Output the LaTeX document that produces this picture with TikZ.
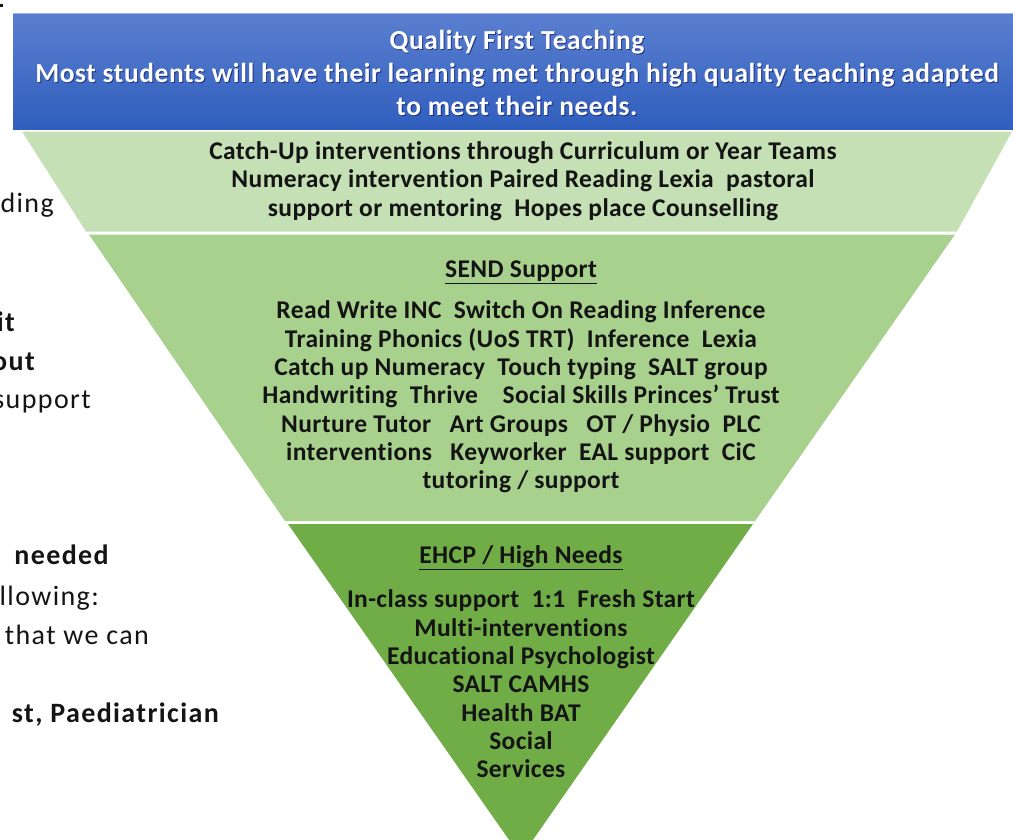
\documentclass[tikz,border=0pt]{standalone}
\usepackage{fontspec}
\setmainfont{Carlito}[Ligatures=NoCommon]
\newfontfamily\bandfont{Carlito}[Ligatures=NoCommon, LetterSpace=1.5]
\newfontfamily\headfont{Carlito}[Ligatures=NoCommon, LetterSpace=2]
\newfontfamily\sidefont{Carlito}[Ligatures=NoCommon, LetterSpace=5]
\begin{document}
\begin{tikzpicture}[x=1pt,y=-1pt,
  bandtext/.style={align=center, text=ink, inner sep=0pt,
    font=\bandfont\bfseries\fontsize{25.5}{28.3}\selectfont},
  headtext/.style={align=center, text=white, inner sep=0pt,
    font=\headfont\bfseries\fontsize{27.5}{33}\selectfont},
  sidetext/.style={anchor=base east, text=ink, inner sep=0pt,
    font=\sidefont\fontsize{28}{30}\selectfont},
  sidebold/.style={sidetext, font=\sidefont\bfseries\fontsize{28}{30}\selectfont},
]
\definecolor{ink}{HTML}{141414}
\definecolor{bluetop}{HTML}{5B7FD0}
\definecolor{bluebot}{HTML}{2F5EBD}
\definecolor{blueedge}{HTML}{9DB3E0}
\definecolor{greenA}{HTML}{C5E0B4}
\definecolor{greenB}{HTML}{A9D18E}
\definecolor{greenC}{HTML}{70AD47}

\useasboundingbox (0,0) rectangle (1013,839);
\clip (0,0) rectangle (1013,839);

% stray mark at the corner
\fill[ink] (0,4) rectangle (3,6.5);

% top banner
\shade[top color=bluetop, bottom color=bluebot] (13,13) rectangle (1020,129.5);
\draw[blueedge, line width=1pt] (13,13.5) -- (1020,13.5);

% inverted pyramid bands
\fill[greenA] (22,131.5) -- (1012,131.5) -- (957,231.5) -- (86,231.5) -- cycle;
\fill[greenB] (89,234.5) -- (955,234.5) -- (755,521) -- (285,521) -- cycle;
\fill[greenC] (288,524) -- (753,524) -- (521,857) -- cycle;

% banner text with a faint shadow
\node[headtext, text=black!70!blue, opacity=0.55] at (518,73.8) {Quality First Teaching\\Most students will have their learning met through high quality teaching adapted\\to meet their needs.};
\node[headtext] (qft) at (517,73) {Quality First Teaching\\Most students will have their learning met through high quality teaching adapted\\to meet their needs.};

% band texts
\node[bandtext] (catchup) at (523,181) {Catch-Up interventions through Curriculum or Year Teams\\Numeracy intervention Paired Reading Lexia\ \ pastoral\\support or mentoring\ \ Hopes place Counselling};

\node[bandtext] (sendhead) at (521,272) {\underline{SEND Support}};
\node[bandtext] (send) at (521,397) {Read Write INC\ \ Switch On Reading Inference\\Training Phonics (UoS TRT)\ \ Inference\ \ Lexia\\Catch up Numeracy\ \ Touch typing\ \ SALT group\\Handwriting\ \ Thrive\ \ \ \ Social Skills Princes’ Trust\\Nurture Tutor\ \ \ Art Groups\ \ \ OT / Physio\ \ PLC\\interventions\ \ \ Keyworker\ \ EAL support\ \ CiC\\tutoring / support};

\node[bandtext] (ehcphead) at (521,558) {\underline{EHCP / High Needs}};
\node[bandtext] (ehcp) at (521,684) {In-class support\ \ 1:1\ \ Fresh Start\\Multi-interventions\\Educational Psychologist\\SALT CAMHS\\Health BAT\\Social\\Services};

% side text, running off the left edge
\node[sidetext] (s1) at (54,212) {ding};
\node[sidebold] (s2) at (15,331) {it};
\node[sidebold] (s3) at (35,370) {out};
\node[sidetext] (s4) at (91,408) {support};
\node[sidebold] (s5) at (109,564) {needed};
\node[sidetext] (s6) at (99,605) {llowing:};
\node[sidetext] (s7) at (149,644) {that we can};
\node[sidebold] (s8) at (219,722) {st, Paediatrician};
\end{tikzpicture}
\end{document}
